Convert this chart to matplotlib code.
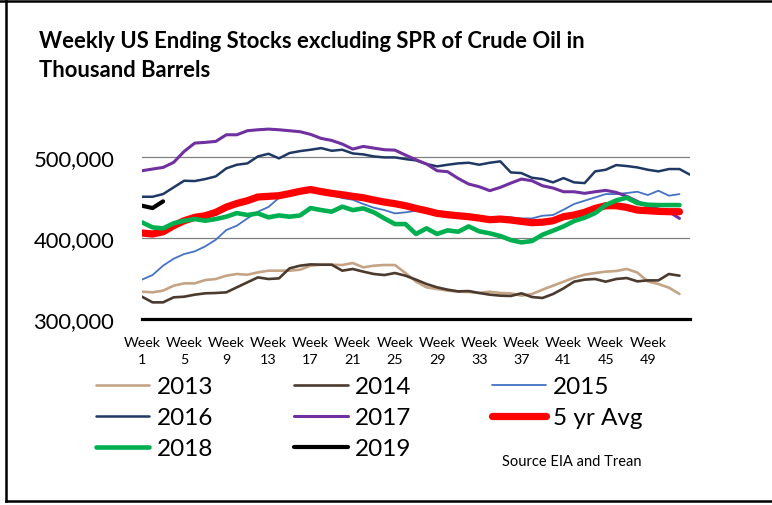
import matplotlib
matplotlib.use("Agg")
import matplotlib.pyplot as plt
from matplotlib.lines import Line2D
import numpy as np

plt.rcParams['font.family'] = ['Lato', 'DejaVu Sans']

# ---- data (thousand barrels) ----
y2013 = [333.8, 333.0, 335.1, 341.2, 344.1, 344.1, 348.2, 349.5, 353.6, 355.7, 354.8, 357.7, 359.8,
         359.8, 359.8, 361.0, 366.0, 367.2, 367.2, 366.8, 369.3, 363.9, 366.0, 366.8, 366.8, 356.9,
         346.2, 339.2, 337.1, 335.1, 333.8, 333.4, 332.2, 333.8, 332.2, 331.8, 328.9, 330.9, 336.3,
         341.2, 346.2, 351.1, 354.8, 356.9, 358.6, 359.4, 361.9, 357.5, 346.5, 343.3, 338.8, 331.0]
y2014 = [327.6, 320.6, 320.6, 326.8, 327.6, 330.1, 331.8, 332.2, 333.0, 339.2, 345.4, 351.5, 349.5,
         350.3, 362.7, 366.0, 367.6, 367.2, 367.2, 359.8, 361.9, 358.6, 355.7, 354.4, 356.9, 353.6,
         348.7, 343.3, 339.2, 336.3, 334.2, 334.6, 332.2, 330.1, 328.9, 328.5, 331.8, 327.2, 326.0,
         330.9, 337.9, 346.2, 348.7, 349.5, 346.2, 349.5, 350.7, 346.6, 347.8, 347.8, 355.7, 353.6]
y2015 = [348.7, 354.4, 366.0, 374.6, 380.4, 383.7, 389.9, 398.1, 410.1, 415.5, 424.5, 432.8, 438.6,
         450.0, 452.5, 455.5, 457.5, 456.0, 453.4, 449.7, 447.6, 442.3, 437.7, 434.8, 430.7, 432.0,
         434.0, 432.0, 429.9, 427.8, 426.6, 425.4, 424.5, 424.5, 425.4, 425.8, 424.5, 424.5, 427.8,
         428.7, 435.3, 442.3, 446.4, 450.5, 454.6, 454.6, 455.9, 457.5, 453.4, 458.8, 452.6, 454.6]
y2016 = [451.3, 451.3, 454.6, 462.9, 471.1, 470.7, 473.2, 476.5, 486.4, 490.9, 492.6, 501.2, 504.5,
         498.8, 505.4, 507.8, 509.5, 511.5, 508.2, 509.5, 504.9, 503.7, 501.2, 500.0, 500.0, 497.9,
         496.3, 491.8, 488.9, 490.9, 492.6, 493.4, 490.9, 493.4, 495.1, 481.4, 480.6, 474.8, 473.2,
         469.1, 474.4, 469.1, 468.2, 482.7, 484.7, 490.5, 489.3, 487.6, 484.7, 482.7, 485.6, 485.6,
         478.6]
y2017 = [483.5, 485.6, 487.6, 493.8, 507.4, 517.7, 518.6, 519.8, 528.0, 528.0, 533.0, 534.2, 535.0,
         534.2, 533.0, 531.8, 528.5, 523.5, 521.0, 516.5, 510.3, 513.6, 511.5, 509.5, 509.0, 502.9,
         497.1, 491.8, 483.5, 482.3, 474.0, 467.0, 463.7, 458.8, 462.9, 468.2, 473.2, 471.1, 464.9,
         462.1, 457.5, 457.5, 455.5, 457.5, 459.2, 456.7, 451.8, 445.6, 439.4, 436.1, 432.8, 424.5]
y5avg = [406.4, 405.2, 408.0, 415.5, 421.6, 425.8, 427.8, 432.0, 438.5, 443.0, 446.4, 451.0, 451.8,
         452.6, 455.2, 458.1, 460.2, 457.7, 455.5, 453.8, 451.8, 450.1, 447.2, 444.7, 442.7, 440.2,
         436.9, 434.0, 430.7, 429.1, 427.8, 426.6, 424.9, 422.9, 423.7, 422.5, 420.8, 419.2, 419.8,
         421.6, 426.6, 428.7, 432.0, 436.9, 440.2, 440.2, 438.1, 434.8, 434.0, 433.2, 432.8, 432.8]
y2018 = [419.6, 413.4, 412.2, 418.4, 421.6, 423.7, 421.6, 423.7, 426.6, 431.1, 428.7, 430.7, 425.8,
         428.2, 426.6, 428.2, 437.3, 434.8, 432.8, 439.0, 434.8, 436.9, 432.0, 424.5, 417.5, 417.5,
         405.2, 412.2, 405.2, 409.7, 408.0, 414.6, 408.5, 406.0, 402.7, 397.7, 394.8, 396.5, 404.3,
         409.3, 414.6, 421.2, 425.4, 431.1, 441.0, 446.8, 450.1, 443.5, 441.4, 441.0, 441.0, 441.0]
y2019 = [440.2, 437.3, 445.6]

tick_weeks = [1, 5, 9, 13, 17, 21, 25, 29, 33, 37, 41, 45, 49]
tick_labels = ["Week\n%d" % w for w in tick_weeks]
y_ticks = [300000, 400000, 500000]

series = [
    ("2013", y2013, "#C4A484", 1.9),
    ("2014", y2014, "#4B3A2E", 1.9),
    ("2015", y2015, "#4472C4", 1.3),
    ("2016", y2016, "#1F3864", 1.8),
    ("2017", y2017, "#7030A0", 2.2),
    ("5 yr Avg", y5avg, "#FF0000", 5.2),
    ("2018", y2018, "#00B050", 3.3),
    ("2019", y2019, "#000000", 3.0),
]

fig = plt.figure(figsize=(7.72, 5.06), dpi=100)
ax = fig.add_axes([142/772, 1-320/506, (690-142)/772, (320-118)/506])

handles = {}
for name, vals, col, lw in series:
    v = np.array(vals) * 1000
    x = np.arange(1, len(v) + 1)
    ln, = ax.plot(x, v, color=col, lw=lw, solid_capstyle='round', solid_joinstyle='round',
                  label=name)
    handles[name] = ln

ax.set_xlim(1, 53)
ax.set_ylim(300000, 550000)
ax.set_yticks(y_ticks)
ax.set_yticklabels(["{:,}".format(t) for t in y_ticks], fontsize=15.8)
ax.set_xticks(tick_weeks)
ax.set_xticklabels(tick_labels, fontsize=10.3, linespacing=1.5)
ax.tick_params(axis='both', length=0)
ax.tick_params(axis='y', pad=20)
ax.tick_params(axis='x', pad=12)
for s in ['top', 'right', 'left']:
    ax.spines[s].set_visible(False)
ax.spines['bottom'].set_linewidth(2.3)
ax.spines['bottom'].set_color('black')
ax.spines['bottom'].set_zorder(5)
for yv in [400000, 500000]:
    ax.axhline(yv, color='#808080', lw=0.9, zorder=0)

# title
fig.text(39/772, 1-56/506, "Weekly US Ending Stocks excluding SPR of Crude Oil in\nThousand Barrels",
         fontsize=15.8, fontweight='bold', ha='left', va='center', linespacing=1.45)

# legend
order = ["2013", "2016", "2018", "2014", "2017", "2019", "2015", "5 yr Avg"]
leg_handles = []
for name in order:
    h = handles[name]
    leg_handles.append(Line2D([0], [0], color=h.get_color(), lw=h.get_linewidth(),
                              solid_capstyle='round'))
leg = fig.legend(leg_handles, order, ncol=3, loc='upper left',
                 bbox_to_anchor=(96/772, 1-377/506), frameon=False, fontsize=17.5,
                 handlelength=2.2, handletextpad=0.3, columnspacing=3.33, labelspacing=0.42,
                 borderpad=0, borderaxespad=0)

fig.text(502/772, 1-462/506, "Source EIA and Trean", fontsize=10.5, ha='left', va='center')

# outer frame
for (xs, ys) in [([0.0, 1.0], [1-1.5/506, 1-1.5/506]),
                 ([6/772, 6/772], [1-1.5/506, 1-502/506]),
                 ([6/772, 1.0], [1-502/506, 1-502/506])]:
    fig.add_artist(Line2D(xs, ys, color='black', lw=1.8, transform=fig.transFigure))

fig.savefig("out.png", dpi=100)
